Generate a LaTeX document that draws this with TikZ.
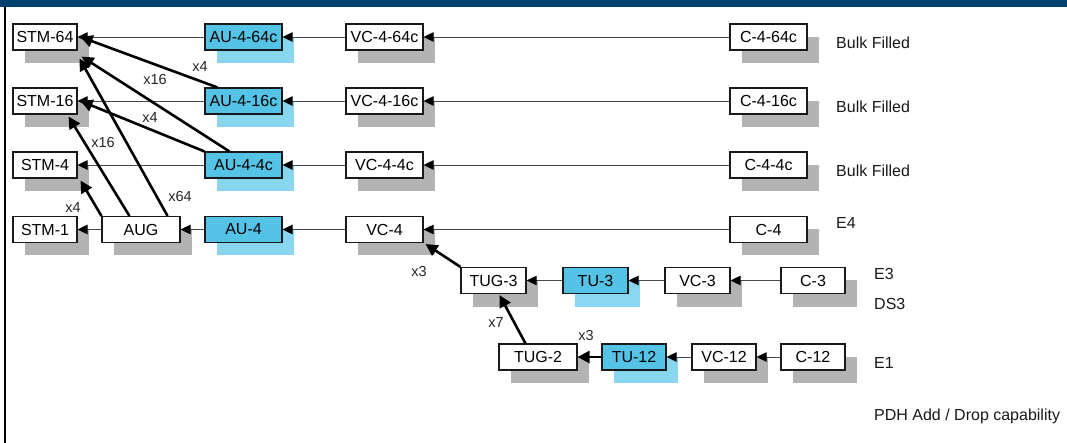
\documentclass[tikz,border=0pt]{standalone}
\usepackage{fontspec}
\setmainfont{Liberation Sans}
\usetikzlibrary{arrows.meta,shadows,calc}
\definecolor{hdr}{HTML}{00416E}
\definecolor{aufill}{HTML}{55C3E6}
\definecolor{aushadow}{HTML}{88D6EF}
\definecolor{shgray}{HTML}{B3B3B3}
\definecolor{thin}{HTML}{4A4A4A}
\tikzset{
  box/.style={draw=black!90, line width=1.1pt, fill=white, minimum height=26pt, inner sep=0pt,
    font=\fontsize{16}{19}\selectfont,
    general shadow={fill=shgray, shadow xshift=12pt, shadow yshift=-13pt}},
  aubox/.style={draw=black!90, line width=1.1pt, fill=aufill, minimum height=26pt, inner sep=0pt,
    font=\fontsize{16}{19}\selectfont,
    general shadow={fill=aushadow, shadow xshift=12pt, shadow yshift=-13pt}},
  thinarrow/.style={draw=thin, line width=0.9pt, -{Triangle[length=10pt,width=9.5pt,color=black]}},
  thickarrow/.style={draw=black, line width=2.6pt, -{Triangle[length=12pt,width=12pt]}},
  mult/.style={font=\fontsize{14.5}{17}\selectfont, text=black!85, inner sep=0pt},
  side/.style={font=\fontsize{16}{19}\selectfont, anchor=west, inner sep=0pt, text=black!90}
}
\begin{document}
\begin{tikzpicture}[x=1pt,y=1pt]
\useasboundingbox (0,0) rectangle (1067,-443);
\fill[hdr] (0,0) rectangle (1067,-7);
\draw[thin, line width=1.6pt] (4.8,-7) -- (4.8,-443);

% row 1
\node[box, minimum width=64pt] (stm64) at (45,-37) {STM-64};
\node[aubox, minimum width=77pt] (au64) at (243.5,-37) {AU-4-64c};
\node[box, minimum width=77pt] (vc64) at (384.5,-37) {VC-4-64c};
\node[box, minimum width=77pt] (c64) at (768.5,-37) {C-4-64c};
% row 2
\node[box, minimum width=64pt] (stm16) at (45,-101) {STM-16};
\node[aubox, minimum width=77pt] (au16) at (243.5,-101) {AU-4-16c};
\node[box, minimum width=77pt] (vc16) at (384.5,-101) {VC-4-16c};
\node[box, minimum width=77pt] (c16) at (768.5,-101) {C-4-16c};
% row 3
\node[box, minimum width=64pt] (stm4) at (45,-165) {STM-4};
\node[aubox, minimum width=77pt] (au4c) at (243.5,-165) {AU-4-4c};
\node[box, minimum width=77pt] (vc4c) at (384.5,-165) {VC-4-4c};
\node[box, minimum width=77pt] (c4c) at (768.5,-165) {C-4-4c};
% row 4
\node[box, minimum width=64pt] (stm1) at (45,-229.5) {STM-1};
\node[box, minimum width=78pt] (aug) at (141,-229.5) {AUG};
\node[aubox, minimum width=77pt] (au4) at (243.5,-229.5) {AU-4};
\node[box, minimum width=77pt] (vc4) at (384.5,-229.5) {VC-4};
\node[box, minimum width=77pt] (c4) at (768.5,-229.5) {C-4};
% row 5
\node[box, minimum width=65pt] (tug3) at (493.5,-280.5) {TUG-3};
\node[aubox, minimum width=65pt] (tu3) at (595.5,-280.5) {TU-3};
\node[box, minimum width=65pt] (vc3) at (697.5,-280.5) {VC-3};
\node[box, minimum width=64pt] (c3) at (813,-280.5) {C-3};
% row 6
\node[box, minimum width=78pt] (tug2) at (538,-357) {TUG-2};
\node[aubox, minimum width=64pt] (tu12) at (634,-357) {TU-12};
\node[box, minimum width=64pt] (vc12) at (724,-357) {VC-12};
\node[box, minimum width=64pt] (c12) at (813,-357) {C-12};

% thin arrows
\draw[thinarrow] (au64) -- (stm64);
\draw[thinarrow] (vc64) -- (au64);
\draw[thinarrow] (c64) -- (vc64);
\draw[thinarrow] (au16) -- (stm16);
\draw[thinarrow] (vc16) -- (au16);
\draw[thinarrow] (c16) -- (vc16);
\draw[thinarrow] (au4c) -- (stm4);
\draw[thinarrow] (vc4c) -- (au4c);
\draw[thinarrow] (c4c) -- (vc4c);
\draw[thinarrow] (aug) -- (stm1);
\draw[thinarrow] (au4) -- (aug);
\draw[thinarrow] (vc4) -- (au4);
\draw[thinarrow] (c4) -- (vc4);
\draw[thinarrow] (tu3) -- (tug3);
\draw[thinarrow] (vc3) -- (tu3);
\draw[thinarrow] (c3) -- (vc3);
\draw[thinarrow] (vc12) -- (tu12);
\draw[thinarrow] (c12) -- (vc12);

% thick arrows
\coordinate (t64a) at ($(stm64.east)+(3,0)$);
\coordinate (t64b) at ($(stm64.south east)+(4,-6)$);
\coordinate (t64c) at ($(stm64.south east)+(2,-8)$);
\coordinate (t16a) at ($(stm16.east)+(3,0)$);
\coordinate (t16b) at ($(stm16.south east)+(-9,-2)$);
\coordinate (t4a) at ($(stm4.south east)+(3,-2)$);
\coordinate (tvc4) at ($(vc4.south east)+(2,-1)$);
\coordinate (ttug3) at ($(tug3.south)+(6,-1)$);

\draw[thickarrow] ($(au16.north west)+(13,0)$) -- (t64a);
\node[mult] (l4c) at (200,-67) {x4};
\draw[thickarrow] ($(au4c.north west)+(25,0)$) -- (t64b);
\node[mult] (l16a) at (155,-80) {x16};
\draw[thickarrow] (au4c.north west) -- (t16a);
\node[mult] (l4a) at (150,-118) {x4};
\draw[thickarrow] ($(aug.north east)+(-13,0)$) -- (t64c);
\node[mult] (l64) at (180,-197) {x64};
\draw[thickarrow] ($(aug.north west)+(28,0)$) -- (t16b);
\node[mult] (l16b) at (103,-143) {x16};
\draw[thickarrow] (aug.north west) -- (t4a);
\node[mult] (l4b) at (73,-208) {x4};
\draw[thickarrow] (tug3.north west) -- (tvc4);
\node[mult] (l3a) at (419,-272) {x3};
\draw[thickarrow] ($(tug2.north west)+(27,0)$) -- (ttug3);
\node[mult] (l7) at (496,-323) {x7};
\draw[thickarrow] (tu12) -- (tug2);
\node[mult] (l3b) at (586,-336) {x3};

% side labels
\node[side] (bf1) at (836,-43) {Bulk Filled};
\node[side] (bf2) at (836,-107) {Bulk Filled};
\node[side] (bf3) at (836,-171) {Bulk Filled};
\node[side] (e4) at (836,-223) {E4};
\node[side] (e3) at (874,-274) {E3};
\node[side] (ds3) at (874,-304) {DS3};
\node[side] (e1) at (874,-363) {E1};
\node[side] (pdh) at (874,-416) {PDH Add / Drop capability};
\end{tikzpicture}
\end{document}
